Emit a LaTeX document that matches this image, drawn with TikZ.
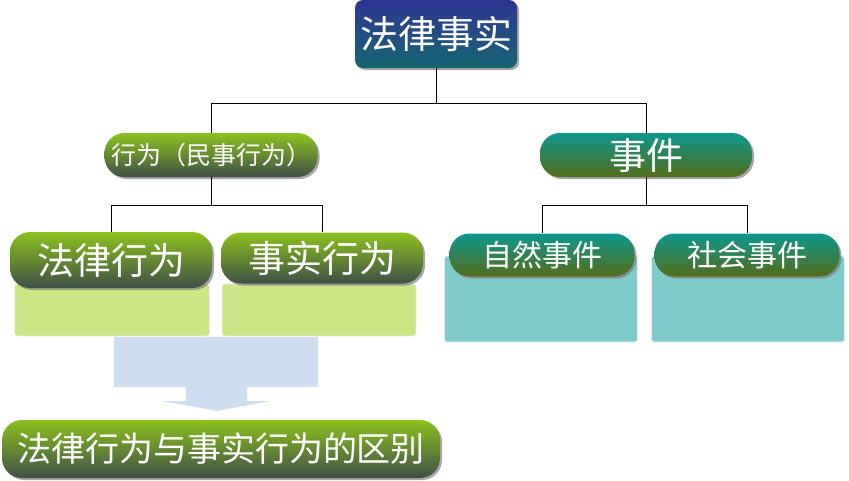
\documentclass[tikz,border=0pt]{standalone}
\usepackage{fontspec}
\setmainfont{Noto Sans CJK SC}
\usepackage{xcolor}
\usetikzlibrary{shadows}
\definecolor{factTop}{HTML}{2E3592}
\definecolor{factBot}{HTML}{166672}
\definecolor{actTop}{HTML}{8CC21E}
\definecolor{actBot}{HTML}{3F5046}
\definecolor{evTop}{HTML}{0E978E}
\definecolor{evBot}{HTML}{536E1A}
\definecolor{actFill}{HTML}{CDE685}
\definecolor{evFill}{HTML}{7FCACB}
\definecolor{arrowFill}{HTML}{CFDDF1}

\begin{document}
\begin{tikzpicture}[
  x=1pt, y=-1pt,
  head/.style={text=white, inner sep=0pt, align=center,
               drop shadow={shadow xshift=2pt, shadow yshift=-2pt, opacity=0.7}},
  facthead/.style={head, rounded corners=8pt, top color=factTop, bottom color=factBot,
                   minimum width=162pt, minimum height=68pt, font=\fontsize{38}{40}\selectfont},
  actpill/.style={head, rounded corners=20pt, top color=actTop, bottom color=actBot},
  evpill/.style={head, rounded corners=20pt, top color=evTop, bottom color=evBot},
  body/.style={draw=white!85!gray, rounded corners=3pt, inner sep=0pt},
  semithick
]
  \useasboundingbox (0,0) rectangle (849,480);

  % top level
  \node[facthead] (fact) at (436,34) {法律事实};
  \node[actpill, minimum width=213pt, minimum height=44pt,
        font=\fontsize{25}{27}\selectfont] (act) at (211,155) {行为（民事行为）};
  \node[evpill, minimum width=212pt, minimum height=44pt,
        font=\fontsize{37}{40}\selectfont] (event) at (646,155) {事件};

  % bodies under the small heads
  \node[body, fill=actFill, minimum width=195pt, minimum height=52pt] (lawbody) at (112,310) {};
  \node[body, fill=actFill, minimum width=194pt, minimum height=52pt] (factbody) at (319,310) {};
  \node[body, fill=evFill, minimum width=193pt, minimum height=86pt] (natbody) at (541,299) {};
  \node[body, fill=evFill, minimum width=193pt, minimum height=86pt] (socbody) at (748,299) {};

  \node[actpill, minimum width=202pt, minimum height=56pt,
        font=\fontsize{37}{40}\selectfont] (lawact) at (111,260) {法律行为};
  \node[actpill, minimum width=202pt, minimum height=51pt,
        font=\fontsize{37}{40}\selectfont] (factact) at (322,258) {事实行为};
  \node[evpill, minimum width=185pt, minimum height=43pt,
        font=\fontsize{30}{32}\selectfont] (natural) at (542,255) {自然事件};
  \node[evpill, minimum width=185pt, minimum height=43pt,
        font=\fontsize{30}{32}\selectfont] (social) at (747,255) {社会事件};

  % result
  \fill[arrowFill] (114,337) -- (318,337) -- (318,387) -- (247,387) -- (247,401)
    -- (270,401) -- (217,411) -- (162,401) -- (186,401) -- (186,387) -- (114,387) -- cycle;
  \node[actpill, minimum width=438pt, minimum height=58pt,
        font=\fontsize{34}{36}\selectfont] (diff) at (221,449) {法律行为与事实行为的区别};

  \draw (fact.south) -- ++(0,35) -| (act.north);
  \draw (fact.south) -- ++(0,35) -| (event.north);
  \draw (act.south) -- ++(0,28) -| (lawact.north);
  \draw (act.south) -- ++(0,28) -| (factact.north);
  \draw (event.south) -- ++(0,28) -| (natural.north);
  \draw (event.south) -- ++(0,28) -| (social.north);
\end{tikzpicture}
\end{document}
